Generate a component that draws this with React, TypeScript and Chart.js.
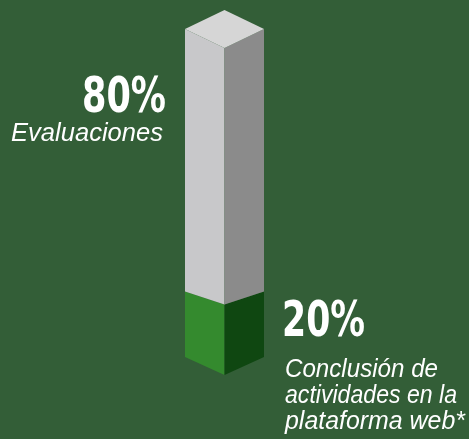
import React, { useEffect, useRef } from "react";
import { Chart, registerables } from "chart.js";

Chart.register(...registerables);

const categories = ["Total"];
const seriesNames = ["Conclusión de actividades en la plataforma web*", "Evaluaciones"];
const greenValues = [20];
const grayValues = [80];
const pctLabels = ["20%", "80%"];
const greenLabelLines = ["Conclusión de", "actividades en la", "plataforma web*"];
const grayLabelLines = ["Evaluaciones"];

const BG = "#335e37";

const cubePlugin = {
  id: "cube3d",
  beforeDraw(chart: any) {
    const ctx = chart.ctx;
    ctx.save();
    ctx.fillStyle = BG;
    ctx.fillRect(0, 0, chart.width, chart.height);
    ctx.restore();
  },
  afterDatasetsDraw(chart: any) {
    const ctx = chart.ctx;
    const g = chart.getDatasetMeta(0).data[0];
    const s = chart.getDatasetMeta(1).data[0];
    if (!g || !s) return;
    const poly = (pts: number[][], color: string) => {
      ctx.beginPath();
      ctx.moveTo(pts[0][0], pts[0][1]);
      for (let i = 1; i < pts.length; i++) ctx.lineTo(pts[i][0], pts[i][1]);
      ctx.closePath();
      ctx.fillStyle = color;
      ctx.fill();
    };
    const dTop = 19;
    const dSplit = 13;
    const dBot = 18;
    ctx.save();
    // green block
    {
      const x = g.x, w = g.width, l = x - w / 2, r = x + w / 2, t = g.y, b = g.base;
      poly([[l, t], [x, t + dSplit], [x, b + dBot], [l, b]], "#348a2e");
      poly([[x, t + dSplit], [r, t], [r, b], [x, b + dBot]], "#0f4711");
    }
    // gray block
    {
      const x = s.x, w = s.width, l = x - w / 2, r = x + w / 2, t = s.y, b = s.base;
      poly([[l, t], [x, t + dTop], [x, b + dSplit], [l, b]], "#c8c8ca");
      poly([[x, t + dTop], [r, t], [r, b], [x, b + dSplit]], "#8b8b8b");
      poly([[x, t - dTop], [r, t], [x, t + dTop], [l, t]], "#d6d6d6");
    }
    // labels
    const bigFont = "bold 50px 'Liberation Sans Narrow', 'DejaVu Sans Condensed', sans-serif";
    const itFont = "italic 26px 'Liberation Sans', sans-serif";
    ctx.fillStyle = "#ffffff";
    ctx.textBaseline = "alphabetic";
    // gray label (left)
    const gl = s.x - s.width / 2;
    ctx.textAlign = "right";
    ctx.font = bigFont;
    ctx.fillText(pctLabels[1], gl - 19, s.y + 83, 84);
    ctx.font = itFont;
    grayLabelLines.forEach((line, i) => {
      ctx.fillText(line, gl - 22, s.y + 112 + i * 26, 152);
    });
    // green label (right)
    const gr = g.x + g.width / 2;
    ctx.textAlign = "left";
    ctx.font = bigFont;
    ctx.fillText(pctLabels[0], gr + 18, g.y + 45, 83);
    ctx.font = itFont;
    const widths = [153, 172, 180];
    greenLabelLines.forEach((line, i) => {
      ctx.fillText(line, gr + 21, g.y + 86 + i * 26, widths[i]);
    });
    ctx.restore();
  },
};

export default function App() {
  const ref = useRef<HTMLCanvasElement | null>(null);
  useEffect(() => {
    if (!ref.current) return;
    const chart = new Chart(ref.current, {
      type: "bar",
      data: {
        labels: categories,
        datasets: [
          { label: seriesNames[0], data: greenValues, backgroundColor: "rgba(0,0,0,0)", borderWidth: 0 },
          { label: seriesNames[1], data: grayValues, backgroundColor: "rgba(0,0,0,0)", borderWidth: 0 },
        ],
      },
      options: {
        responsive: false,
        animation: false,
        layout: { padding: { left: 185, right: 205, top: 29, bottom: 82 } },
        datasets: { bar: { barPercentage: 1, categoryPercentage: 1 } },
        scales: {
          x: { stacked: true, display: false },
          y: { stacked: true, display: false, min: 0, max: 100 },
        },
        plugins: { legend: { display: false }, tooltip: { enabled: false } },
      },
      plugins: [cubePlugin],
    });
    return () => chart.destroy();
  }, []);
  return (
    <div style={{ position: "fixed", left: 0, top: 0, width: 469, height: 439, background: BG }}>
      <canvas ref={ref} width={469} height={439} />
    </div>
  );
}
